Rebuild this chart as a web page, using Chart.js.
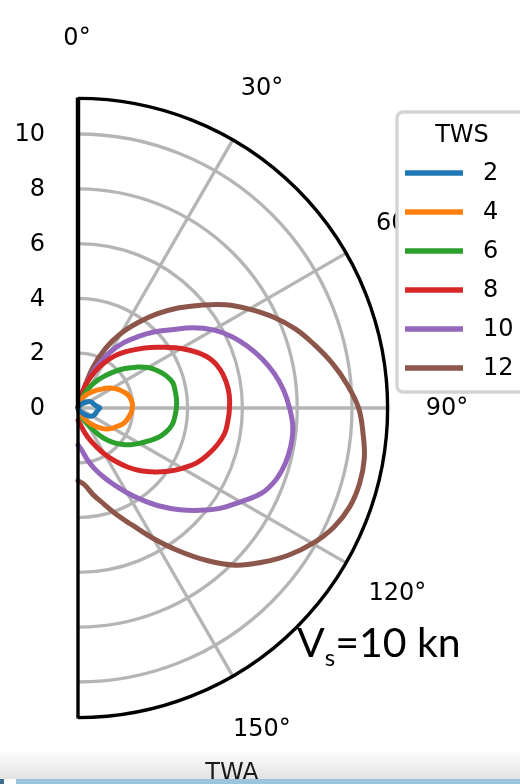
<!DOCTYPE html>
<html>
<head>
<meta charset="utf-8">
<script src="https://cdn.jsdelivr.net/npm/chart.js@4.4.1/dist/chart.umd.min.js"></script>
<style>
  html, body { margin: 0; padding: 0; background: #fff; }
  #wrap { position: relative; width: 520px; height: 784px; overflow: hidden; background: #fff; }
  #shade { position: absolute; left: 0; top: 750px; width: 520px; height: 29px; background: linear-gradient(to bottom, rgba(235,235,235,0), rgba(226,226,226,1)); }
  #c { position: absolute; left: 0; top: 0; }
  #vs { position: absolute; left: 297px; top: 621px; font-family: Lato, "Open Sans", sans-serif; font-size: 41px; color: #000; line-height: 1; white-space: nowrap; }
  #vs sub { font-size: 24px; vertical-align: -9px; line-height: 0; }
  #bar { position: absolute; left: 16px; top: 779px; width: 504px; height: 5px; background: #9dc3df; }
  #bar2 { position: absolute; left: 0; top: 779px; width: 4px; height: 5px; background: #3f6f8e; }
</style>
</head>
<body>
<div id="wrap">
  <div id="shade"></div>
  <canvas id="c" width="520" height="784"></canvas>
  <div id="vs">V<sub>s</sub>=10 kn</div>
  <div id="bar"></div>
  <div id="bar2"></div>
</div>
<script>
// ---- data: true wind angle (deg) and boat speed for each true wind speed ----
const angles = [0,5,10,15,20,25,30,35,40,45,50,55,60,65,70,75,80,85,90,95,100,105,110,115,120,125,130,135,140,145,150,155,160,165,170,175,180];
const tws2  = [0,0,0,0,0.02,0.05,0.08,0.12,0.17,0.24,0.32,0.40,0.47,0.52,0.56,0.59,0.63,0.70,0.80,0.74,0.70,0.68,0.66,0.63,0.59,0.52,0.42,0.31,0.20,0.13,0.08,0.05,0.03,0.01,0,0,0];
const tws4  = [0,0,0,0.05,0.28,0.40,0.51,0.63,0.75,0.90,1.05,1.25,1.45,1.61,1.75,1.88,1.95,1.99,1.98,1.95,1.88,1.82,1.73,1.58,1.47,1.33,1.17,0.97,0.78,0.57,0.38,0.22,0.12,0.06,0.03,0.01,0];
const tws6  = [0,0,0,0.10,0.30,0.60,0.93,1.23,1.53,1.88,2.24,2.60,2.95,3.21,3.43,3.58,3.60,3.61,3.59,3.55,3.49,3.34,3.13,2.84,2.58,2.34,2.06,1.76,1.41,1.00,0.68,0.44,0.25,0.12,0.05,0.01,0];
const tws8  = [0,0,0.15,0.55,1.03,1.48,1.90,2.31,2.67,3.03,3.44,3.86,4.35,4.80,5.17,5.38,5.49,5.54,5.53,5.49,5.43,5.25,5.02,4.76,4.40,4.02,3.63,3.24,2.81,2.36,1.95,1.54,1.21,0.92,0.68,0.53,0.45];
const tws10 = [0,0,0,0.43,1.09,1.74,2.36,2.91,3.40,3.92,4.44,5.10,5.70,6.18,6.58,6.95,7.27,7.53,7.72,7.87,7.89,7.83,7.68,7.38,6.85,6.37,5.81,5.25,4.68,4.10,3.57,3.08,2.66,2.28,1.90,1.54,1.35];
const tws12 = [0,0,0,0.40,1.54,2.43,3.15,3.80,4.48,5.16,5.84,6.57,7.22,7.86,8.44,8.93,9.42,9.86,10.24,10.44,10.61,10.64,10.55,10.30,9.89,9.37,8.76,8.11,7.25,6.35,5.50,4.73,4.15,3.62,3.22,2.82,2.65];
const seriesNames = ['2','4','6','8','10','12'];
const seriesData = [tws2, tws4, tws6, tws8, tws10, tws12];
const colors = ['#1f77b4','#ff7f0e','#2ca02c','#d62728','#9467bd','#8c564b'];
const rTicks = [0,2,4,6,8,10];
const thetaTicks = [0,30,60,90,120,150];
const rMax = 11.3;
const legendTitle = 'TWS';
const thetaAxisTitle = 'TWA';

// polar -> cartesian (0 deg at top, clockwise)
function toXY(rs) {
  return rs.map((r, i) => {
    const t = angles[i] * Math.PI / 180;
    return { x: r * Math.sin(t), y: r * Math.cos(t) };
  });
}

const PXU = 27.4, CX = 78, CY = 408, W = 520, H = 784;

const polarGrid = {
  id: 'polarGrid',
  beforeDatasetsDraw(chart) {
    const ctx = chart.ctx, xs = chart.scales.x, ys = chart.scales.y;
    const cx = xs.getPixelForValue(0), cy = ys.getPixelForValue(0);
    const u = xs.getPixelForValue(1) - cx;
    ctx.save();
    ctx.strokeStyle = '#b5b5b5';
    ctx.lineWidth = 3.3;
    rTicks.forEach(r => {
      if (r <= 0) return;
      ctx.beginPath();
      ctx.arc(cx, cy, r * u, -Math.PI / 2, Math.PI / 2, false);
      ctx.stroke();
    });
    thetaTicks.forEach(t => {
      if (t === 0) return;
      const a = t * Math.PI / 180;
      ctx.beginPath();
      ctx.moveTo(cx, cy);
      ctx.lineTo(xs.getPixelForValue(rMax * Math.sin(a)), ys.getPixelForValue(rMax * Math.cos(a)));
      ctx.stroke();
    });
    ctx.restore();
  },
  afterDatasetsDraw(chart) {
    const ctx = chart.ctx, xs = chart.scales.x, ys = chart.scales.y;
    const cx = xs.getPixelForValue(0), cy = ys.getPixelForValue(0);
    const u = xs.getPixelForValue(1) - cx;
    ctx.save();
    // outer arc
    ctx.strokeStyle = '#000';
    ctx.lineWidth = 3.4;
    ctx.beginPath();
    ctx.arc(cx, cy, rMax * u, -Math.PI / 2, Math.PI / 2, false);
    ctx.stroke();
    // spines
    ctx.lineWidth = 4.4;
    ctx.beginPath();
    ctx.moveTo(cx, cy); ctx.lineTo(cx, ys.getPixelForValue(rMax) - 1);
    ctx.stroke();
    ctx.lineWidth = 3.4;
    ctx.beginPath();
    ctx.moveTo(cx, cy); ctx.lineTo(cx, ys.getPixelForValue(-rMax) + 1);
    ctx.stroke();
    // radial tick labels
    ctx.fillStyle = '#000';
    ctx.font = '24px "DejaVu Sans"';
    ctx.textAlign = 'right';
    ctx.textBaseline = 'middle';
    rTicks.forEach(r => ctx.fillText(String(r), cx - 33, ys.getPixelForValue(r) + 1));
    // angular tick labels
    ctx.textAlign = 'center';
    const rl = 13.5;
    thetaTicks.forEach(t => {
      const a = t * Math.PI / 180;
      ctx.fillText(t + '°', xs.getPixelForValue(rl * Math.sin(a)) - 1, ys.getPixelForValue(rl * Math.cos(a)) + 1);
    });
    // axis title
    ctx.fillStyle = '#1a1a1a';
    ctx.textBaseline = 'alphabetic';
    ctx.fillText(thetaAxisTitle, 232, 780);
    // legend
    const lx = 397, ly = 112, lw = 140, lh = 280;
    ctx.beginPath();
    ctx.roundRect(lx, ly, lw, lh, 6);
    ctx.fillStyle = '#fff';
    ctx.fill();
    ctx.strokeStyle = '#d3d3d3';
    ctx.lineWidth = 3.4;
    ctx.stroke();
    ctx.fillStyle = '#000';
    ctx.textAlign = 'center';
    ctx.textBaseline = 'middle';
    ctx.fillText(legendTitle, 462, 136);
    chart.data.datasets.forEach((ds, i) => {
      const y = 173 + i * 39;
      ctx.strokeStyle = ds.borderColor;
      ctx.lineWidth = 5.5;
      ctx.beginPath();
      ctx.moveTo(405, y); ctx.lineTo(463, y);
      ctx.stroke();
      ctx.fillStyle = '#000';
      ctx.textAlign = 'left';
      ctx.fillText(ds.label, 483, y + 1);
    });
    ctx.restore();
  }
};

new Chart(document.getElementById('c'), {
  type: 'line',
  data: {
    datasets: seriesData.map((d, i) => ({
      label: seriesNames[i],
      data: toXY(d),
      borderColor: colors[i],
      backgroundColor: colors[i],
      borderWidth: 5,
      borderJoinStyle: 'round',
      borderCapStyle: 'round',
      pointRadius: 0,
      tension: 0.4,
      fill: false
    }))
  },
  options: {
    responsive: false,
    animation: false,
    layout: { padding: 0 },
    plugins: { legend: { display: false }, tooltip: { enabled: false } },
    scales: {
      x: { type: 'linear', display: false, min: -CX / PXU, max: (W - CX) / PXU },
      y: { type: 'linear', display: false, min: -(H - CY) / PXU, max: CY / PXU }
    }
  },
  plugins: [polarGrid]
});
</script>
</body>
</html>
